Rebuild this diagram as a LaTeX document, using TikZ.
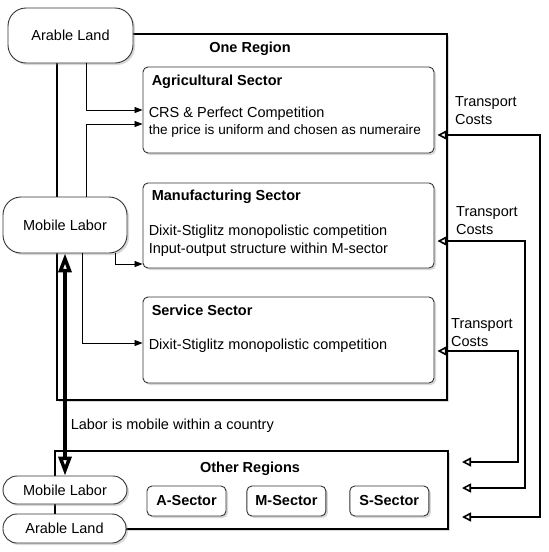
\documentclass[tikz,border=0pt]{standalone}
\usepackage{fontspec}
\setmainfont{Liberation Sans}
\usetikzlibrary{positioning, arrows.meta, shadows}
\newcommand\figfont{\fontsize{14.5}{17.4}\selectfont}

\begin{document}
\begin{tikzpicture}[
        x=1pt, y=-1pt,
        font=\figfont,
        shade/.style={drop shadow={opacity=0.3, shadow xshift=2pt, shadow yshift=-2pt}},
        region/.style={rectangle, draw, line width=1.8pt, fill=white, shade},
        sector/.style={rectangle, draw=black!80, line width=0.9pt, rounded corners=5pt, fill=white,
                       shade, minimum width=291pt, minimum height=86pt},
        mini/.style={sector, minimum width=79pt, minimum height=30pt, font=\figfont\bfseries},
        pill/.style={rectangle, draw=black!80, line width=0.9pt, fill=white, shade, minimum width=124pt},
        title/.style={font=\figfont\bfseries, inner sep=0pt},
        body/.style={align=left, inner sep=0pt, anchor=north west},
        lbl/.style={align=left, inner sep=2pt, anchor=west},
        feed/.style={-{Triangle[length=8pt, width=6pt]}, line width=0.8pt},
        tc/.style={{Triangle[open, length=9pt, width=9pt]}-{Triangle[open, length=9pt, width=9pt]}, line width=1.6pt},
        mobile/.style={{Triangle[open, length=19pt, width=13pt]}-{Triangle[open, length=19pt, width=13pt]}, line width=3.5pt},
    ]
    \useasboundingbox (0,0) rectangle (549,552);

    % regions
    \node[region, minimum width=390pt, minimum height=366pt] (one) at (252,217) {};
    \node[title] (onet) at (250,48.5) {One Region};
    \node[region, minimum width=393pt, minimum height=78pt] (other) at (251.5,490) {};
    \node[title] (othert) at (250,468.5) {Other Regions};

    % sectors of one region
    \node[sector] (agri) at (288.5,110) {};
    \node[title, anchor=west] (agrit) at ([xshift=9pt, yshift=-15pt]agri.north west) {Agricultural Sector};
    \node[body] (agrib) at ([xshift=6pt, yshift=-40pt]agri.north west)
        {CRS \& Perfect Competition\\{\fontsize{13.6}{16.3}\selectfont the price is uniform and chosen as numeraire}};

    \node[sector, minimum height=85pt] (manu) at (288.5,225.5) {};
    \node[title, anchor=west] (manut) at ([xshift=9pt, yshift=-14pt]manu.north west) {Manufacturing Sector};
    \node[body] (manub) at ([xshift=6pt, yshift=-42.5pt]manu.north west)
        {Dixit-Stiglitz monopolistic competition\\Input-output structure within M-sector};

    \node[sector] (serv) at (288.5,340) {};
    \node[title, anchor=west] (servt) at ([xshift=9pt, yshift=-14pt]serv.north west) {Service Sector};
    \node[body] (servb) at ([xshift=6pt, yshift=-42pt]serv.north west)
        {Dixit-Stiglitz monopolistic competition};

    % sectors of other regions
    \node[mini] (asec) at (186.5,501) {A-Sector};
    \node[mini, right=20pt of asec] (msec) {M-Sector};
    \node[mini, right=23pt of msec] (ssec) {S-Sector};

    % factors
    \node[pill, minimum width=125pt, minimum height=55pt, rounded corners=18pt] (land) at (70.5,35.5) {Arable Land};
    \node[pill, minimum height=56pt, rounded corners=18pt] (labor) at (65,225) {Mobile Labor};
    \node[pill, minimum height=28pt, rounded corners=14pt] (labor2) at (65,490) {Mobile Labor};
    \node[pill, minimum width=123pt, minimum height=29pt, rounded corners=14pt] (land2) at (64.5,528.5) {Arable Land};

    \draw[feed] ([xshift=15.5pt]land.south) |- (agri.west);
    \draw[feed] ([xshift=21pt]labor.north) |- ([yshift=-14pt]agri.west);
    \draw[feed] ([xshift=50pt]labor.south) |- ([yshift=-38.5pt]manu.west);
    \draw[feed] ([xshift=17pt]labor.south) |- ([yshift=-3pt]serv.west);

    \draw[mobile] (labor.south) -- node[pos=0.776, right=2pt, inner sep=2pt] (mobt)
        {Labor is mobile within a country} (labor2.north);

    % transport costs
    \coordinate (tcA) at (540,517);
    \coordinate (tcB) at (525,488);
    \coordinate (tcC) at (518,462);
    \coordinate (tcAend) at (462,517);
    \coordinate (tcBend) at (462,488);
    \coordinate (tcCend) at (462,462);
    \draw[tc] ([xshift=3pt, yshift=-25pt]agri.east) -| (tcA) -- (tcAend);
    \draw[tc] ([xshift=3pt, yshift=-15.5pt]manu.east) -| (tcB) -- (tcBend);
    \draw[tc] ([xshift=3pt, yshift=-11pt]serv.east) -| (tcC) -- (tcCend);
    \node[lbl] (tcAl) at (453,110.5) {Transport\\Costs};
    \node[lbl] (tcBl) at (454,220.5) {Transport\\Costs};
    \node[lbl] (tcCl) at (449,332.5) {Transport\\Costs};
\end{tikzpicture}
\end{document}
